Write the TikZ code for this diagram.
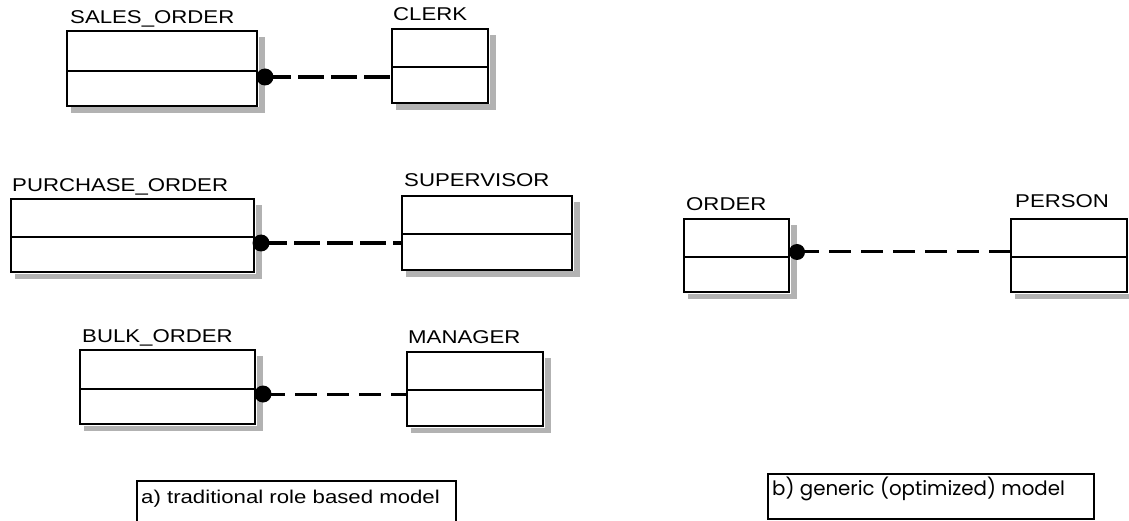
\documentclass[tikz,border=0pt]{standalone}
\usepackage{fontspec}
\setmainfont{Liberation Sans}
\newfontfamily\labfont[FakeStretch=1.2]{Liberation Sans}
\newfontfamily\capbfont{Poppins}
\usetikzlibrary{patterns}
\begin{document}
\begin{tikzpicture}[x=1pt,y=-1pt,
  entity/.style={draw, line width=2.2pt, inner sep=0pt, outer sep=0pt, anchor=north west, fill=white},
  lab/.style={anchor=base west, inner sep=0pt, font=\labfont\fontsize{18.5}{20}\selectfont},
  shadowfill/.style={fill=black!30},
  conn/.style={line width=4pt, dash pattern=on 26pt off 7pt},
  connthin/.style={line width=3pt, dash pattern=on 22pt off 10pt},
  dotnode/.style={circle, fill=black, inner sep=0pt, minimum size=17pt},
  midline/.style={line width=2.2pt}]
\useasboundingbox (0,0) rectangle (1129,521);

% entities: name / x / y / width / height / mid offset
\foreach \n/\x/\y/\w/\h/\m in {so/67/31/190/75/40, clerk/392/29/96/74/38,
    po/11/199/243/73/38, sup/402/196/170/74/38,
    bo/80/350/175/74/39, mgr/407/352/136/74/38,
    ord/684/219/105/73/38, per/1011/219/116/73/38}{
  \node[entity, minimum width=\w pt, minimum height=\h pt] (\n) at (\x,\y) {};
  \draw[midline] ([yshift=-\m pt]\n.north west) -- ([yshift=-\m pt]\n.north east);
  \fill[shadowfill] ([xshift=1.5pt,yshift=-6pt]\n.north east) rectangle ([xshift=8pt,yshift=-7pt]\n.south east);
  \fill[shadowfill] ([xshift=4pt,yshift=-1.5pt]\n.south west) rectangle ([xshift=8pt,yshift=-7pt]\n.south east);
}

% labels
\node[lab] (lso) at (70,24) {SALES\_ORDER};
\node[lab] (lclerk) at (393,21) {CLERK};
\node[lab] (lpo) at (12,192) {PURCHASE\_ORDER};
\node[lab] (lsup) at (404,187) {SUPERVISOR};
\node[lab] (lbo) at (82,342) {BULK\_ORDER};
\node[lab] (lmgr) at (408,343) {MANAGER};
\node[lab] (lord) at (686,211) {ORDER};
\node[lab] (lper) at (1015,208) {PERSON};

% relationship dots
\node[dotnode] (d1) at (265,77) {};
\node[dotnode] (d2) at (261,243) {};
\node[dotnode] (d3) at (263,394) {};
\node[dotnode, minimum size=16pt] (d4) at (797,252) {};

% connectors
\draw[conn] (d1.center) -- (clerk.west |- d1.center);
\draw[conn] (d2.center) -- (sup.west |- d2.center);
\draw[connthin] (d3.center) -- (mgr.west |- d3.center);
\draw[connthin] (d4.center) -- (per.west |- d4.center);

% captions
\draw[line width=1.8pt] (137,526) -- (137,481) -- (456,481) -- (456,526);
\node[lab] (capa) at (141,503) {a) traditional role based model};
\draw[line width=1.8pt] (768,474) rectangle (1094,519);
\node[anchor=base west, inner sep=0pt, font=\capbfont\fontsize{19.8}{22}\selectfont] (capb) at (772,495) {b) generic (optimized) model};
\end{tikzpicture}
\end{document}
